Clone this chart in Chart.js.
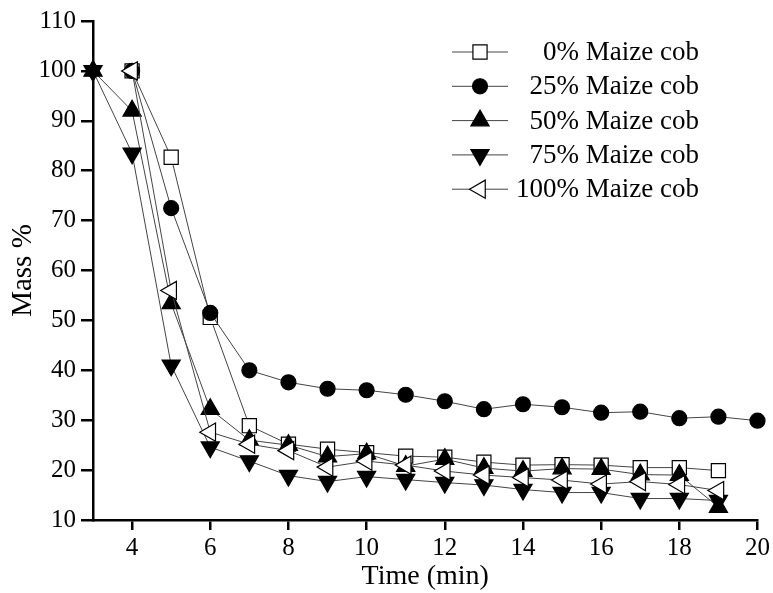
<!DOCTYPE html>
<html lang="en">
<head>
    <meta charset="UTF-8">
    <title>Mass % vs time</title>
    <script src="https://cdn.jsdelivr.net/npm/chart.js"></script>
    <style>
        body {
            margin: 0;
            padding: 0;
            background: white;
        }
        .chart {
            position: relative;
            width: 773px;
            height: 593px;
        }
    </style>
</head>
<body>
    <div class="chart">
        <canvas id="massChart"></canvas>
    </div>
    <script>
        // Данные
        var seriesNames = ['0% Maize cob', '25% Maize cob', '50% Maize cob', '75% Maize cob', '100% Maize cob'];

        var time0 = [4, 5, 6, 7, 8, 9, 10, 11, 12, 13, 14, 15, 16, 17, 18, 19];
        var mass0 = [100, 82.7, 50.6, 28.9, 25.2, 24.2, 23.5, 22.8, 22.6, 21.6, 21.0, 21.1, 21.0, 20.5, 20.5, 19.9];

        var time25 = [4, 5, 6, 7, 8, 9, 10, 11, 12, 13, 14, 15, 16, 17, 18, 19, 20];
        var mass25 = [100, 72.5, 51.5, 40, 37.6, 36.3, 36, 35.1, 33.8, 32.2, 33.2, 32.6, 31.5, 31.7, 30.4, 30.7, 29.9];

        var time50 = [3, 4, 5, 6, 7, 8, 9, 10, 11, 12, 13, 14, 15, 16, 17, 18, 19];
        var mass50 = [100, 92, 53.4, 32.2, 26, 25, 22.7, 23.3, 20.8, 22.2, 20.4, 19.8, 20.3, 20.2, 19.1, 19.0, 12.6];

        var time75 = [3, 4, 5, 6, 7, 8, 9, 10, 11, 12, 13, 14, 15, 16, 17, 18, 19];
        var mass75 = [100, 83.5, 41, 24.6, 21.8, 18.9, 17.7, 18.7, 18.1, 17.5, 17.0, 16.1, 15.5, 15.5, 14.3, 14.3, 13.9];

        var time100 = [4, 5, 6, 7, 8, 9, 10, 11, 12, 13, 14, 15, 16, 17, 18, 19];
        var mass100 = [100, 56, 27.6, 25.2, 23.9, 20.6, 21.8, 21, 19.8, 19, 18.5, 18, 17.2, 17.7, 17.1, 15.9];

        var xTicks = [4, 6, 8, 10, 12, 14, 16, 18, 20];

        function points(xs, ys) {
            return xs.map(function(x, i) { return {x: x, y: ys[i]}; });
        }

        var fontName = '"Liberation Serif", "Times New Roman", serif';

        var markers = [
            {style: 'rect', rotation: 0, radius: 10, fill: '#fff'},
            {style: 'circle', rotation: 0, radius: 7.5, fill: '#000'},
            {style: 'triangle', rotation: 0, radius: 10.5, fill: '#000'},
            {style: 'triangle', rotation: 180, radius: 10.5, fill: '#000'},
            {style: 'triangle', rotation: 270, radius: 10.5, fill: '#fff'}
        ];

        var allData = [
            points(time0, mass0),
            points(time25, mass25),
            points(time50, mass50),
            points(time75, mass75),
            points(time100, mass100)
        ];

        var datasets = allData.map(function(d, i) {
            var m = markers[i];
            return {
                label: seriesNames[i],
                data: d,
                borderColor: '#444',
                borderWidth: 1,
                pointStyle: m.style,
                pointRotation: m.rotation,
                pointRadius: m.radius,
                pointBackgroundColor: m.fill,
                pointBorderColor: '#000',
                pointBorderWidth: 1.2,
                tension: 0,
                clip: false,
                order: 5 - i
            };
        });

        // Легенда внутри области графика
        var insideLegend = {
            id: 'insideLegend',
            afterDraw: function(chart) {
                var ctx = chart.ctx;
                var x0 = 452, x1 = 508, xm = 480, y0 = 52, step = 34.3;
                ctx.save();
                ctx.font = '27px ' + fontName;
                ctx.textBaseline = 'middle';
                ctx.textAlign = 'right';
                chart.data.datasets.forEach(function(ds, i) {
                    var y = y0 + i * step;
                    ctx.strokeStyle = '#444';
                    ctx.lineWidth = 1;
                    ctx.beginPath();
                    ctx.moveTo(x0, y);
                    ctx.lineTo(x1, y);
                    ctx.stroke();
                    ctx.fillStyle = ds.pointBackgroundColor;
                    ctx.strokeStyle = '#000';
                    ctx.lineWidth = 1.2;
                    Chart.helpers.drawPoint(ctx, {
                        pointStyle: ds.pointStyle,
                        rotation: ds.pointRotation,
                        radius: ds.pointRadius,
                        borderWidth: 1.2
                    }, xm, y);
                    ctx.fillStyle = '#000';
                    ctx.fillText(ds.label, 699, y + 1);
                });
                ctx.restore();
            }
        };

        new Chart(document.getElementById('massChart'), {
            type: 'line',
            data: { datasets: datasets },
            options: {
                responsive: true,
                maintainAspectRatio: false,
                animation: false,
                layout: { padding: { top: 21, right: 14, bottom: 0, left: 0 } },
                plugins: {
                    legend: { display: false },
                    tooltip: { enabled: false }
                },
                scales: {
                    x: {
                        type: 'linear',
                        min: 3,
                        max: 20,
                        afterBuildTicks: function(scale) {
                            scale.ticks = xTicks.map(function(v) { return {value: v}; });
                        },
                        afterFit: function(scale) { scale.height = 73; },
                        grid: { drawOnChartArea: false, drawTicks: true, tickLength: 10, color: '#000', lineWidth: 2.5 },
                        border: { display: true, color: '#000', width: 2.5 },
                        ticks: { color: '#000', padding: 3, maxRotation: 0, font: { family: fontName, size: 25 } },
                        title: { display: true, text: 'Time (min)', color: '#000', padding: 0, font: { family: fontName, size: 28 } }
                    },
                    y: {
                        min: 10,
                        max: 110,
                        afterFit: function(scale) { scale.width = 93; },
                        grid: { drawOnChartArea: false, drawTicks: true, tickLength: 12, color: '#000', lineWidth: 2.5 },
                        border: { display: true, color: '#000', width: 2.5 },
                        ticks: { stepSize: 10, color: '#000', padding: 5, font: { family: fontName, size: 25 } },
                        title: { display: true, text: 'Mass %', color: '#000', padding: { top: 6, bottom: 0 }, font: { family: fontName, size: 29 } }
                    }
                }
            },
            plugins: [insideLegend]
        });
    </script>
</body>
</html>
